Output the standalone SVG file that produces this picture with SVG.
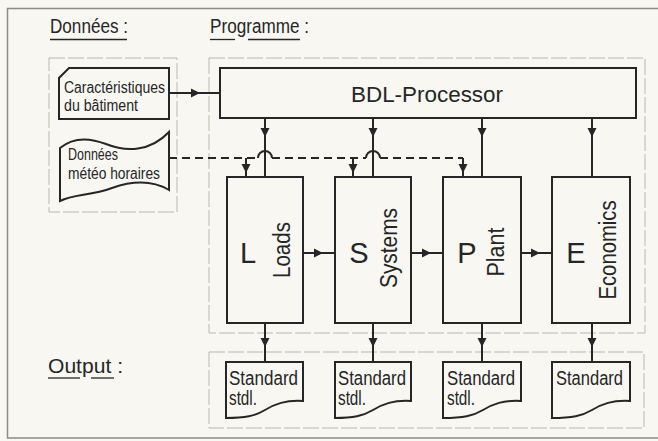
<svg xmlns="http://www.w3.org/2000/svg" width="658" height="441" viewBox="0 0 658 441">
<defs>
<style>
.bg{fill:#f8f7f2}
.frame{fill:none;stroke:#8a8a86;stroke-width:1.5}
.grp{fill:none;stroke:#b8b8b2;stroke-width:1;stroke-dasharray:16 3}
.box{fill:none;stroke:#262626;stroke-width:2}
.ln{fill:none;stroke:#262626;stroke-width:2}
.dash{stroke-dasharray:8 5}
.arr{marker-mid:url(#ah)}
text{font-family:"Liberation Sans",Arial,sans-serif;fill:#262626}
.ttl{font-size:20px}
.sm{font-size:16px}
.big{font-size:29px;text-anchor:middle}
.rot{font-size:23px;text-anchor:middle}
.doc{font-size:20px}
.ul{stroke:#262626;stroke-width:1.3}
</style>
<marker id="ah" viewBox="0 0 10 10" refX="10" refY="5" markerWidth="9" markerHeight="10" markerUnits="userSpaceOnUse" orient="auto">
<path d="M0,0 L10,5 L0,10 Z" fill="#262626"/>
</marker>
</defs>
<rect class="bg" x="0" y="0" width="658" height="441"/>
<path class="frame" d="M658,8.5 H7.5 V438 H658"/>

<g id="titles">
<text class="ttl" x="50" y="33" textLength="78" lengthAdjust="spacingAndGlyphs">Données :</text>
<line class="ul" x1="50" y1="39.5" x2="127" y2="39.5"/>
<text class="ttl" x="210" y="33" textLength="99" lengthAdjust="spacingAndGlyphs">Programme :</text>
<line class="ul" x1="210" y1="39.5" x2="235" y2="39.5"/>
<line class="ul" x1="248" y1="39.5" x2="300" y2="39.5"/>
<text class="ttl" x="48" y="373" textLength="75" lengthAdjust="spacingAndGlyphs">Output :</text>
<line class="ul" x1="48" y1="378" x2="80" y2="378"/>
<line class="ul" x1="91" y1="378" x2="114" y2="378"/>
</g>

<g id="groups">
<rect class="grp" x="49" y="58" width="128" height="154"/>
<rect class="grp" x="209" y="58" width="436" height="275"/>
<rect class="grp" x="209" y="352" width="435" height="76"/>
</g>

<g id="carac">
<path class="box" d="M69,68 H169 V119 H59 V78 Z"/>
<text class="sm" x="64" y="93" textLength="101" lengthAdjust="spacingAndGlyphs">Caractéristiques</text>
<text class="sm" x="64" y="111" textLength="74" lengthAdjust="spacingAndGlyphs">du bâtiment</text>
</g>

<g id="meteo">
<path class="box" d="M60,148 C72,138 88,137 106,144 C126,152 150,152 169,132 V190 C152,180 132,181 112,188 C90,196 74,194 60,201 Z"/>
<text class="sm" x="68" y="160" textLength="50" lengthAdjust="spacingAndGlyphs">Données</text>
<text class="sm" x="68" y="179" textLength="92" lengthAdjust="spacingAndGlyphs">météo horaires</text>
</g>

<g id="bdl">
<rect class="box" x="220" y="68" width="416" height="50"/>
<text x="351" y="102" font-size="22" textLength="152" lengthAdjust="spacingAndGlyphs">BDL-Processor</text>
</g>

<g id="loads">
<rect class="box" x="227" y="177" width="76" height="146"/>
<text class="big" x="248" y="263">L</text>
<text class="rot" transform="translate(290,250) rotate(-90)" textLength="56" lengthAdjust="spacingAndGlyphs">Loads</text>
</g>
<g id="systems">
<rect class="box" x="335" y="177" width="76" height="146"/>
<text class="big" x="359" y="263">S</text>
<text class="rot" transform="translate(397,248) rotate(-90)" textLength="80" lengthAdjust="spacingAndGlyphs">Systems</text>
</g>
<g id="plant">
<rect class="box" x="443" y="177" width="78" height="146"/>
<text class="big" x="467" y="263">P</text>
<text class="rot" transform="translate(504,252) rotate(-90)" textLength="49" lengthAdjust="spacingAndGlyphs">Plant</text>
</g>
<g id="economics">
<rect class="box" x="552" y="177" width="78" height="146"/>
<text class="big" x="576" y="263">E</text>
<text class="rot" transform="translate(616,250) rotate(-90)" textLength="99" lengthAdjust="spacingAndGlyphs">Economics</text>
</g>

<g id="out-loads">
<path class="box" d="M226,362 H303 V401 C285,400 275,404 265,410 C255,416 245,418 226,418 Z"/>
<text class="doc" x="229" y="385" textLength="69" lengthAdjust="spacingAndGlyphs">Standard</text>
<text class="doc" x="229" y="405" textLength="28" lengthAdjust="spacingAndGlyphs">stdl.</text>
</g>
<g id="out-systems">
<path class="box" d="M335,362 H411 V401 C393,400 383,404 373,410 C363,416 353,418 335,418 Z"/>
<text class="doc" x="338" y="385" textLength="68" lengthAdjust="spacingAndGlyphs">Standard</text>
<text class="doc" x="338" y="405" textLength="28" lengthAdjust="spacingAndGlyphs">stdl.</text>
</g>
<g id="out-plant">
<path class="box" d="M443,362 H521 V401 C503,400 493,404 483,410 C473,416 463,418 443,418 Z"/>
<text class="doc" x="447" y="385" textLength="68" lengthAdjust="spacingAndGlyphs">Standard</text>
<text class="doc" x="447" y="405" textLength="28" lengthAdjust="spacingAndGlyphs">stdl.</text>
</g>
<g id="out-economics">
<path class="box" d="M552,362 H630 V401 C612,400 602,404 592,410 C582,416 572,418 552,418 Z"/>
<text class="doc" x="556" y="385" textLength="67" lengthAdjust="spacingAndGlyphs">Standard</text>
</g>

<g id="connectors">
<path class="ln arr" d="M169,93 L200,93 L220,93"/>
<path class="ln arr" d="M265,118 L265,137 L265,177"/>
<path class="ln arr" d="M373,118 L373,137 L373,177"/>
<path class="ln arr" d="M482,118 L482,137 L482,177"/>
<path class="ln arr" d="M592,118 L592,137 L592,177"/>
<path class="ln dash" d="M169,158 H258"/>
<path class="ln" d="M258,158 A7,7 0 0 1 272,158"/>
<path class="ln dash" d="M272,158 H366"/>
<path class="ln" d="M366,158 A7,7 0 0 1 380,158"/>
<path class="ln dash" d="M380,158 H463"/>
<path class="ln arr" d="M246,158 L246,173 L246,177"/>
<path class="ln arr" d="M353,158 L353,173 L353,177"/>
<path class="ln arr" d="M463,158 L463,173 L463,177"/>
<path class="ln arr" d="M303,253 L323,253 L335,253"/>
<path class="ln arr" d="M411,253 L431,253 L443,253"/>
<path class="ln arr" d="M521,253 L540,253 L552,253"/>
<path class="ln arr" d="M265,323 L265,347 L265,362"/>
<path class="ln arr" d="M373,323 L373,347 L373,362"/>
<path class="ln arr" d="M482,323 L482,347 L482,362"/>
<path class="ln arr" d="M592,323 L592,347 L592,362"/>
</g>
</svg>
